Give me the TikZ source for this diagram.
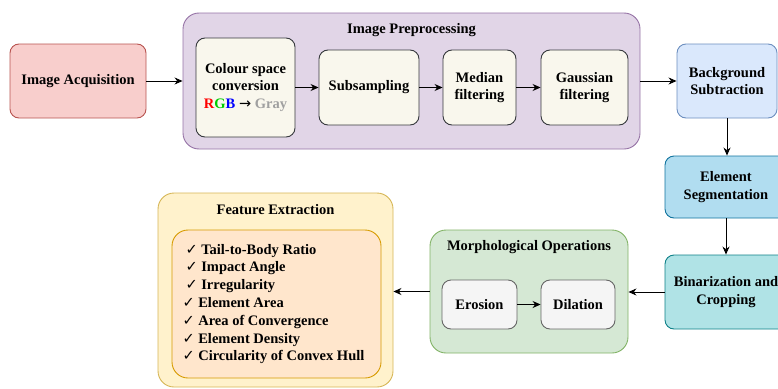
\documentclass[tikz,border=0pt]{standalone}
\usepackage{fontspec}
\setmainfont{Liberation Serif}
\newfontfamily\symfont{DejaVu Sans}
\usepackage{tikz}
\usetikzlibrary{arrows.meta,positioning}
\definecolor{acqfill}{HTML}{F8CECC}
\definecolor{acqline}{HTML}{B85450}
\definecolor{prepfill}{HTML}{E1D5E7}
\definecolor{prepline}{HTML}{9673A6}
\definecolor{stepfill}{HTML}{F9F7ED}
\definecolor{stepline}{HTML}{36393D}
\definecolor{bgfill}{HTML}{DAE8FC}
\definecolor{bgline}{HTML}{6C8EBF}
\definecolor{segfill}{HTML}{B1DDF0}
\definecolor{segline}{HTML}{10739E}
\definecolor{binfill}{HTML}{B0E3E6}
\definecolor{binline}{HTML}{0E8088}
\definecolor{morphfill}{HTML}{D5E8D4}
\definecolor{morphline}{HTML}{82B366}
\definecolor{opfill}{HTML}{F5F5F5}
\definecolor{opline}{HTML}{666666}
\definecolor{featfill}{HTML}{FFF2CC}
\definecolor{featline}{HTML}{D6B656}
\definecolor{listfill}{HTML}{FFE6CC}
\definecolor{listline}{HTML}{D79B00}
\definecolor{rgbred}{HTML}{FF0000}
\definecolor{rgbgreen}{HTML}{00CC00}
\definecolor{rgbblue}{HTML}{0000FF}
\definecolor{graytext}{HTML}{A0A0A0}
\newcommand{\tickmark}{{\symfont\mdseries ✓}}

\begin{document}
\begin{tikzpicture}[x=1pt, y=-1pt,
    every node/.style={font=\fontsize{14.5}{17.5}\selectfont\bfseries},
    stepbox/.style={draw, rounded corners=9pt, line width=0.9pt, align=center, inner sep=0pt},
    groupbox/.style={draw, rounded corners=16pt, line width=0.9pt, inner sep=0pt},
    flow/.style={line width=0.9pt, -{Stealth[length=8pt,width=7pt]}}]
    \useasboundingbox (0,0) rectangle (778,388);
    \clip (0,0) rectangle (778,388);

    % Acquisition
    \node[stepbox, fill=acqfill, draw=acqline, minimum width=136pt, minimum height=74pt] (acq) at (78,81) {Image Acquisition};

    % Preprocessing group
    \node[groupbox, fill=prepfill, draw=prepline, minimum width=457pt, minimum height=136pt] (prep) at (411.5,81) {};
    \node (preptitle) at (411.5,30) {Image Preprocessing};
    \node[stepbox, fill=stepfill, draw=stepline, minimum width=99pt, minimum height=99pt] (csc) at (245.5,87.5)
        {Colour space\\conversion\\{\color{rgbred}R}{\color{rgbgreen}G}{\color{rgbblue}B} {\symfont\mdseries →} {\color{graytext}Gray}};
    \node[stepbox, fill=stepfill, draw=stepline, minimum width=100pt, minimum height=75pt] (sub) at (369,87.5) {Subsampling};
    \node[stepbox, fill=stepfill, draw=stepline, minimum width=73pt, minimum height=75pt] (median) at (479.5,87.5) {Median\\filtering};
    \node[stepbox, fill=stepfill, draw=stepline, minimum width=87pt, minimum height=75pt] (gauss) at (584.5,87.5) {Gaussian\\filtering};

    % Right column
    \node[stepbox, fill=bgfill, draw=bgline, minimum width=100pt, minimum height=74pt] (bg) at (727,81) {Background\\Subtraction};
    \node[stepbox, fill=segfill, draw=segline, minimum width=122pt, minimum height=62pt] (seg) at (726,187) {Element\\Segmentation};
    \node[stepbox, fill=binfill, draw=binline, minimum width=122pt, minimum height=74pt] (bin) at (726,292) {Binarization and\\Cropping};

    % Morphological group
    \node[groupbox, fill=morphfill, draw=morphline, minimum width=198pt, minimum height=123pt] (morph) at (529,291.5) {};
    \node (morphtitle) at (529,247) {Morphological Operations};
    \node[stepbox, fill=opfill, draw=opline, minimum width=75pt, minimum height=49pt] (ero) at (479.5,304.5) {Erosion};
    \node[stepbox, fill=opfill, draw=opline, minimum width=74pt, minimum height=49pt] (dil) at (578,304.5) {Dilation};

    % Feature group
    \node[groupbox, fill=featfill, draw=featline, minimum width=235pt, minimum height=194pt] (feat) at (275.5,290) {};
    \node (feattitle) at (275.5,210) {Feature Extraction};
    \node[groupbox, fill=listfill, draw=listline, minimum width=209pt, minimum height=148pt] (featbox) at (276.5,304) {};
    \node[anchor=west, align=left, font=\fontsize{14.5}{17.8}\selectfont\bfseries] (featlist) at (179,304)
        {\hspace*{3pt}\tickmark{} Tail-to-Body Ratio\\
         \hspace*{3pt}\tickmark{} Impact Angle\\
         \hspace*{3pt}\tickmark{} Irregularity\\
         \tickmark{} Element Area\\
         \tickmark{} Area of Convergence\\
         \tickmark{} Element Density\\
         \tickmark{} Circularity of Convex Hull};

    % Connectors
    \draw[flow] (acq) -- (prep);
    \draw[flow] (csc) -- (sub);
    \draw[flow] (sub) -- (median);
    \draw[flow] (median) -- (gauss);
    \draw[flow] (prep) -- (bg);
    \draw[flow] (bg.south) -- (bg.south |- seg.north);
    \draw[flow] (seg) -- (bin);
    \draw[flow] (bin.west) -- (bin.west -| morph.east);
    \draw[flow] (ero) -- (dil);
    \draw[flow] (morph.west) -- (morph.west -| feat.east);
\end{tikzpicture}
\end{document}
